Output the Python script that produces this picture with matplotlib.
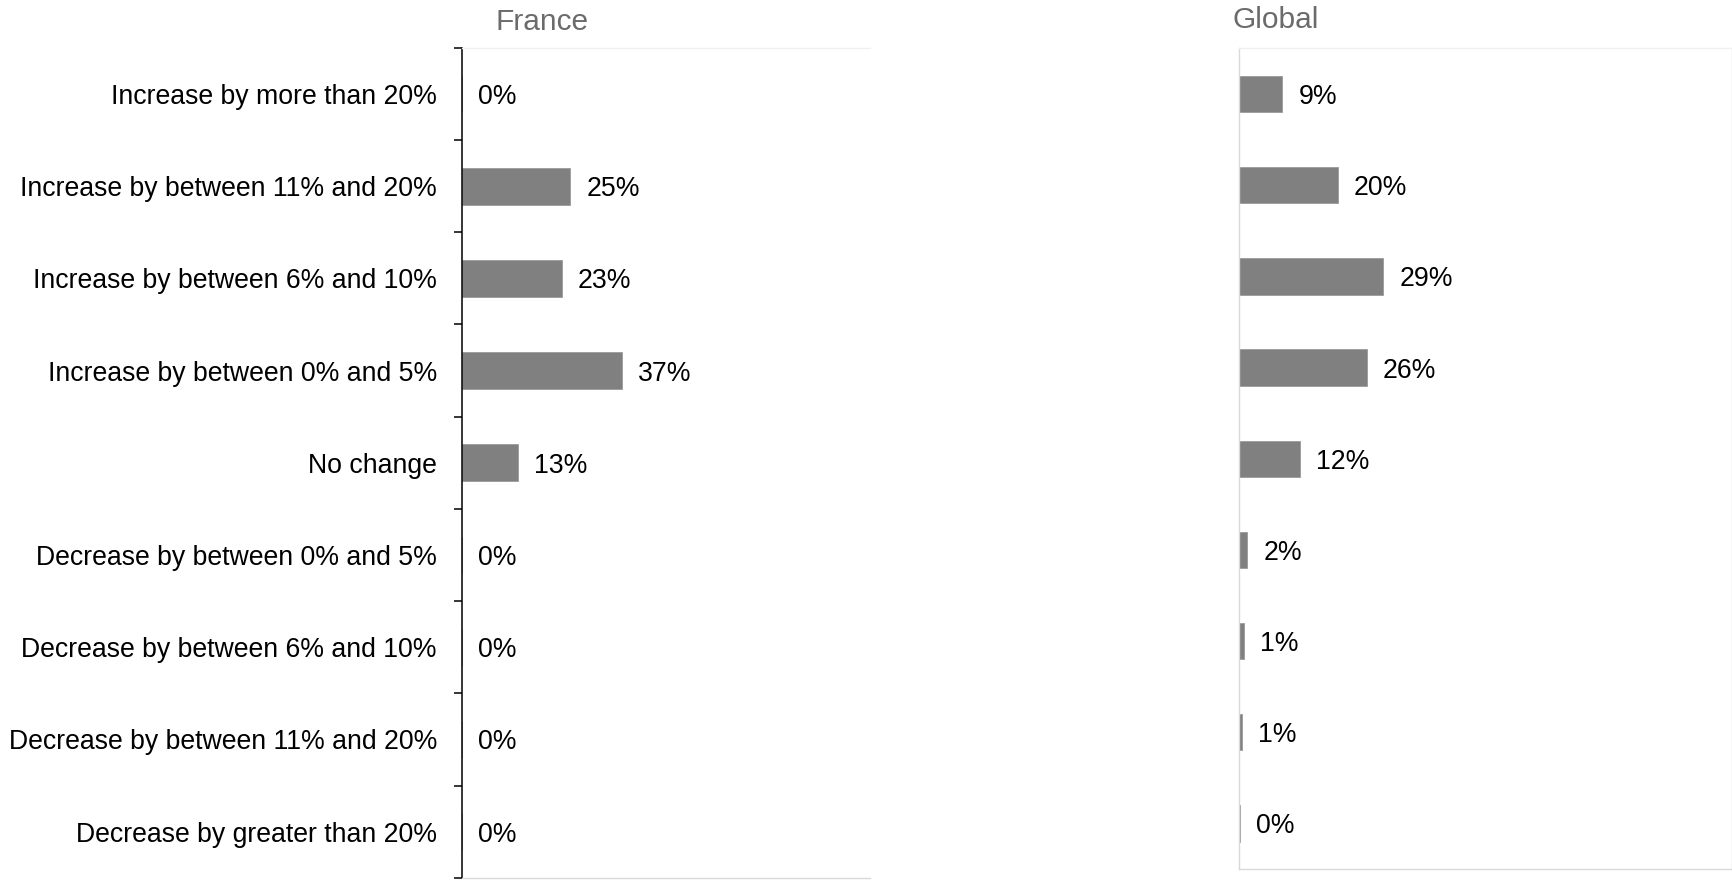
import matplotlib
matplotlib.use("Agg")
import matplotlib.pyplot as plt
import numpy as np

plt.rcParams['font.family'] = ['Liberation Sans', 'DejaVu Sans']

categories = [
    "Increase by more than 20%",
    "Increase by between 11% and 20%",
    "Increase by between 6% and 10%",
    "Increase by between 0% and 5%",
    "No change",
    "Decrease by between 0% and 5%",
    "Decrease by between 6% and 10%",
    "Decrease by between 11% and 20%",
    "Decrease by greater than 20%",
]
france_values = [0, 25, 23, 37, 13, 0, 0, 0, 0]
global_values = [8.7, 19.9, 29.2, 25.9, 12.2, 1.6, 1.0, 0.6, 0.2]
panel_titles = ["France", "Global"]

W, H, DPI = 1733, 880, 100
fig = plt.figure(figsize=(W / DPI, H / DPI), dpi=DPI)


def px_axes(left, top, right, bottom):
    return fig.add_axes([left / W, 1 - bottom / H, (right - left) / W, (bottom - top) / H])


ax_fr = px_axes(462, 47.9, 870, 877.7)
ax_gl = px_axes(1239.5, 48.5, 1732, 869)

bar_color = "#808080"
edge_color = "#9a9a9a"
label_size = 19.2
y = np.arange(len(categories))


def draw_bars(ax, values, xmax):
    ax.barh(y, values, height=0.4, color=bar_color, edgecolor=edge_color, linewidth=0.6)
    ax.set_xlim(0, xmax)
    ax.set_ylim(len(categories) - 0.5, -0.5)
    for yi, v in zip(y, values):
        ax.annotate(f"{v:.0f}%", xy=(v, yi), xytext=(11.5, 0), textcoords="offset points",
                    ha="left", va="center_baseline", fontsize=label_size, color="black")
    ax.set_xticks([])


draw_bars(ax_fr, france_values, 94.2)
draw_bars(ax_gl, global_values, 100)

# France: category axis with boundary ticks
ax_fr.set_yticks(np.arange(-0.5, len(categories), 1.0))
ax_fr.set_yticklabels([])
ax_fr.set_yticks(y, minor=True)
ax_fr.set_yticklabels(categories, minor=True, fontsize=label_size)
ax_fr.tick_params(axis="y", which="major", length=6, width=1.1, color="black", direction="out")
ax_fr.tick_params(axis="y", which="minor", length=0, pad=18)
ax_fr.spines["left"].set_color("black")
ax_fr.spines["left"].set_linewidth(1.1)
ax_fr.spines["right"].set_visible(False)
ax_fr.spines["top"].set_color("#f0f0f0")
ax_fr.spines["bottom"].set_color("#d9d9d9")
for s in ("top", "bottom"):
    ax_fr.spines[s].set_linewidth(1.0)

# Global: plain light frame
ax_gl.set_yticks([])
for s, c in (("left", "#d9d9d9"), ("right", "#d9d9d9"), ("bottom", "#d9d9d9"), ("top", "#f0f0f0")):
    ax_gl.spines[s].set_color(c)
    ax_gl.spines[s].set_linewidth(1.0)

title_color = "#6b6b6b"
fig.text(541.7 / W, 1 - 22.5 / H, panel_titles[0], ha="center", va="center",
         fontsize=21.5, color=title_color)
fig.text(1276 / W, 1 - 20 / H, panel_titles[1], ha="center", va="center",
         fontsize=21.5, color=title_color)

fig.savefig("out.png", dpi=DPI, facecolor="white")
